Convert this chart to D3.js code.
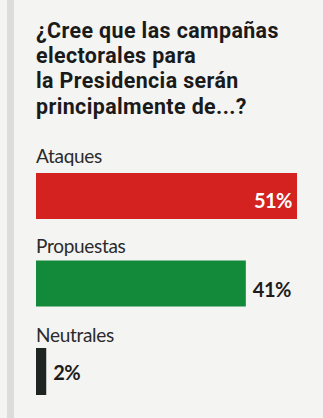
<!DOCTYPE html>
<html>
<head>
<meta charset="utf-8">
<script src="https://cdn.jsdelivr.net/npm/d3@7"></script>
<style>
  body { margin: 0; background: #f4f4f2; }
  svg { display: block; }
</style>
</head>
<body>
<div id="viz"></div>
<script>
(function() {

    var width = 323;
    var height = 418;

    // question text, one entry per line
    var titleLines = ["¿Cree que las campañas", "electorales para", "la Presidencia serán", "principalmente de...?"];

    // answers and their share
    var categories = ["Ataques", "Propuestas", "Neutrales"];
    var values = [51, 41, 2];
    var colors = ["#d3221f", "#138a3a", "#1e2422"];

    var svg = d3.select("#viz")
        .append("svg")
        .attr("width", width)
        .attr("height", height);

    // paper background and the grey fold at the left edge
    svg.append("rect")
        .attr("width", width)
        .attr("height", height)
        .attr("fill", "#f4f4f2");
    svg.append("rect")
        .attr("x", 7)
        .attr("width", 7)
        .attr("height", height)
        .attr("fill", "#dcdcda");

    //Title
    svg.append("g").selectAll("text")
        .data(titleLines)
        .enter().append("text")
        .attr("x", 36)
        .attr("y", function(d, i) { return 38 + i * 25.2 })
        .attr("font-family", "Roboto")
        .attr("font-weight", "bold")
        .attr("font-size", "21.4px")
        .attr("letter-spacing", "0.4px")
        .attr("fill", "#1a1a1a")
        .text(function(d) { return d });

    //Scales
    var x = d3.scaleLinear().domain([0, 51]).range([36, 297]);
    // label baselines for each answer
    var y = d3.scalePoint().domain(categories).range([163, 342]);
    var barH = [46, 46, 47];
    var barTop = [10, 8, 6];
    var valueY = [45, 44.5, 38];

    var groups = svg.selectAll(".answer")
        .data(categories)
        .enter().append("g")
        .attr("class", "answer")
        .attr("transform", function(d) { return "translate(0," + y(d) + ")" });

    groups.append("text")
        .attr("x", 36)
        .attr("y", 0)
        .attr("font-family", "Lato")
        .attr("font-size", "19px")
        .attr("letter-spacing", "-0.3px")
        .attr("fill", "#2a2a2a")
        .text(function(d) { return d });

    groups.append("rect")
        .attr("x", x(0))
        .attr("y", function(d, i) { return barTop[i] })
        .attr("width", function(d, i) { return x(values[i]) - x(0) })
        .attr("height", function(d, i) { return barH[i] })
        .attr("fill", function(d, i) { return colors[i] });

    // value labels: inside the first bar, outside the others
    groups.append("text")
        .attr("x", function(d, i) { return i === 0 ? x(values[i]) - 5 : x(values[i]) + 7 })
        .attr("y", function(d, i) { return valueY[i] })
        .attr("text-anchor", function(d, i) { return i === 0 ? "end" : "start" })
        .attr("font-family", "Lato")
        .attr("font-weight", "bold")
        .attr("font-size", "20px")
        .attr("letter-spacing", "-0.5px")
        .attr("fill", function(d, i) { return i === 0 ? "#ffffff" : "#1c1c1c" })
        .text(function(d, i) { return values[i] + "%" });

})();
</script>
</body>
</html>
